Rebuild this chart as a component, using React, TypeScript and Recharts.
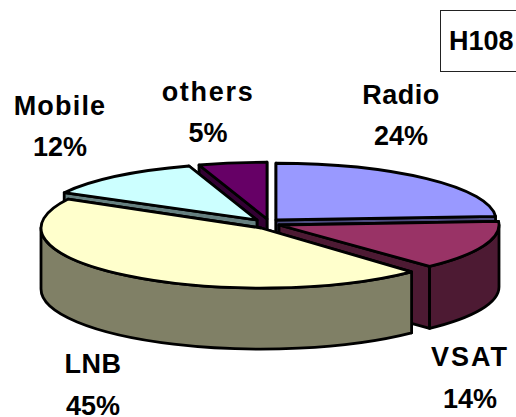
import { PieChart, Pie } from "recharts";

const names = ["Radio", "VSAT", "LNB", "Mobile", "others"];
const shares = [24, 14, 45, 12, 5];
const topColors = ["#9999FF", "#993366", "#FFFFCC", "#CCFFFF", "#660066"];
const wallColors = ["#4D4D80", "#4D1A33", "#808066", "#668080", "#330033"];

// back to front, the walls of a later slice hide the earlier ones
const drawOrder = ["others", "Radio", "VSAT", "Mobile", "LNB"];

// explosion of each slice away from the pie centre, px
const explode: Record<string, [number, number]> = {
  Radio: [10, -2],
  VSAT: [13, 3],
  LNB: [-5, 6],
  Mobile: [-9, -2],
  others: [1, -3],
};

// x, baseline of the name, gap down to the percent line, letter spacing
const labelAt: Record<string, [number, number, number, number]> = {
  Radio: [401, 104, 41, 0.5],
  VSAT: [470, 366, 42, 2],
  LNB: [93, 373, 42, 0.5],
  Mobile: [60, 115, 41, 1.2],
  others: [208, 101, 41, 1.7],
};

const TILT = 0.258;
const LNB_TILT = 0.273;
const DEPTH = 62;
const LINE = { stroke: "#000", strokeWidth: 2.8, strokeLinejoin: "round" as const };

const data = names.map((name, i) => ({
  name,
  value: shares[i],
  fill: topColors[i],
  wall: wallColors[i],
}));

function Slice3D(props: any) {
  const { cx, cy, outerRadius: rx, startAngle, endAngle, name, fill, wall } = props;
  const [dx, dy] = explode[name];
  const ax = cx + dx;
  const ay = cy + dy;
  const ry = rx * (name === "LNB" ? LNB_TILT : TILT);
  const depth = name === "LNB" ? DEPTH - 1 : DEPTH;
  const pt = (deg: number) => {
    const r = (deg * Math.PI) / 180;
    return [ax + rx * Math.cos(r), ay - ry * Math.sin(r)];
  };
  const [sx, sy] = pt(startAngle);
  const [ex, ey] = pt(endAngle);
  const large = startAngle - endAngle > 180 ? 1 : 0;

  // the cut face nearer the viewer goes last so it hides the other one
  const faces = [
    [sx, sy],
    [ex, ey],
  ].sort((a, b) => a[1] - b[1]);

  // outer wall only where the rim faces the viewer
  const hi = Math.min(startAngle, 0);
  const lo = Math.max(endAngle, -180);
  let band = null;
  if (hi > lo) {
    const [x1, y1] = pt(hi);
    const [x2, y2] = pt(lo);
    band = (
      <path
        d={`M${x1},${y1} A${rx},${ry} 0 0 1 ${x2},${y2} L${x2},${y2 + depth} A${rx},${ry} 0 0 0 ${x1},${y1 + depth} Z`}
        fill={wall}
        {...LINE}
      />
    );
  }

  return (
    <g>
      {faces.map(([x, y], i) => (
        <path key={i} d={`M${ax},${ay} L${x},${y} L${x},${y + depth} L${ax},${ay + depth} Z`} fill={wall} {...LINE} />
      ))}
      {band}
      <path d={`M${ax},${ay} L${sx},${sy} A${rx},${ry} 0 ${large} 1 ${ex},${ey} Z`} fill={fill} {...LINE} />
    </g>
  );
}

function SliceLabel(props: any) {
  const { name, value } = props;
  const [x, y, gap, spacing] = labelAt[name];
  const font = { fontFamily: "'Liberation Sans', Arial, sans-serif", fontWeight: 700, fontSize: 27, fill: "#000" };
  return (
    <text x={x} y={y} textAnchor="middle" {...font}>
      <tspan x={x} letterSpacing={spacing}>{name}</tspan>
      <tspan x={x} dy={gap}>{value}%</tspan>
    </text>
  );
}

export default function App() {
  return (
    <div style={{ position: "absolute", left: 0, top: 0, width: 516, height: 417, overflow: "hidden", background: "#fff" }}>
      <PieChart width={516} height={417} margin={{ top: 0, right: 0, bottom: 0, left: 0 }}>
        {drawOrder.map((layer, i) => (
          <Pie
            key={layer}
            data={data}
            dataKey="value"
            nameKey="name"
            cx={266}
            cy={222}
            outerRadius={220}
            startAngle={90}
            endAngle={-270}
            isAnimationActive={false}
            labelLine={false}
            label={i === drawOrder.length - 1 ? <SliceLabel /> : false}
            shape={(p: any) => (p.name === layer ? <Slice3D {...p} /> : <g />)}
          />
        ))}
      </PieChart>
      <div
        style={{
          position: "absolute",
          left: 440,
          top: 10,
          width: 90,
          height: 62,
          boxSizing: "border-box",
          border: "1px solid #222",
          background: "#fff",
          fontFamily: "'Liberation Sans', Arial, sans-serif",
          fontWeight: 700,
          fontSize: 27,
          lineHeight: "60px",
          paddingLeft: 8,
        }}
      >
        H108
      </div>
    </div>
  );
}
